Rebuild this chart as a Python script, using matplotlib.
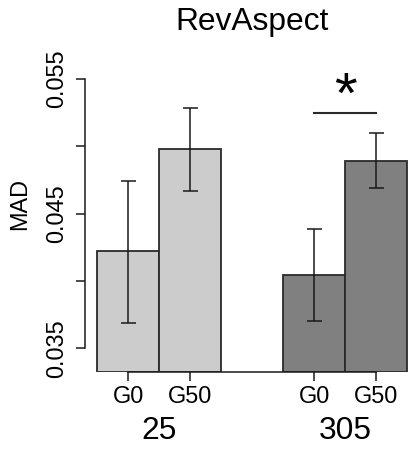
import matplotlib
matplotlib.use("Agg")
import matplotlib.pyplot as plt
from matplotlib.transforms import blended_transform_factory

plt.rcParams['font.family'] = ['Liberation Sans', 'DejaVu Sans']

# MAD per condition: group (25 / 305) x gain (G0 / G50)
groups = ["25", "305"]
conditions = ["G0", "G50"]
means = [0.0422, 0.0498, 0.04045, 0.0489]
err_low = [0.0369, 0.04668, 0.03705, 0.0469]
err_high = [0.04745, 0.0528, 0.04384, 0.05098]
colors = ["#cccccc", "#cccccc", "#808080", "#808080"]
yticks = [0.035, 0.040, 0.045, 0.050, 0.055]
ytick_labels = ["0.035", "", "0.045", "", "0.055"]
sig_y = 0.05246

W, H = 408, 449
fig = plt.figure(figsize=(W / 100, H / 100), dpi=100)
ax = fig.add_axes([84.6 / W, (H - 371.7) / H, 335.1 / W, 334.7 / H])

# bar layout: space 1 before each group, bars side by side within group
lefts = [1, 2, 4, 5]
centers = [l + 0.5 for l in lefts]
ylo = 0.03326
ax.bar(lefts, [m - ylo for m in means], bottom=ylo, width=1.0, align='edge',
       color=colors, edgecolor="#2a2a2a", linewidth=1.3, zorder=2)

yerr = [[m - lo for m, lo in zip(means, err_low)],
        [hi - m for m, hi in zip(means, err_high)]]
ax.errorbar(centers, means, yerr=yerr, fmt='none', ecolor="#1a1a1a",
            elinewidth=1.1, capsize=5.4, capthick=1.1, zorder=3)

ax.set_xlim(0.8, 6.2)
ax.set_ylim(ylo, 0.0581)

for s in ['top', 'right']:
    ax.spines[s].set_visible(False)
ax.spines['left'].set_bounds(yticks[0], yticks[-1])
ax.spines['bottom'].set_bounds(centers[0], centers[-1])
for s in ['left', 'bottom']:
    ax.spines[s].set_linewidth(1.1)
    ax.spines[s].set_color("#1a1a1a")

ax.set_yticks(yticks)
ax.set_yticklabels(ytick_labels, rotation=90, va='center', fontsize=16.9)
ax.set_xticks(centers)
ax.set_xticklabels(conditions * 2, fontsize=16.9)
ax.tick_params(axis='both', length=6.5, width=1.1, color="#1a1a1a")
ax.tick_params(axis='y', pad=5.5)
ax.tick_params(axis='x', pad=3)

# group labels under each pair of bars
tr = blended_transform_factory(ax.transData, fig.transFigure)
for gx, g in zip([2.0, 5.0], groups):
    ax.text(gx, (H - 439.3) / H, g, transform=tr, ha='center', va='baseline',
            fontsize=22.9, clip_on=False)

fig.text(20 / W, (H - 204) / H, "MAD", rotation=90, ha='center', va='center',
         fontsize=16.9)
fig.text(252 / W, (H - 30) / H, "RevAspect", ha='center', va='baseline',
         fontsize=22.9)

# significance marker between the two 305 bars
ax.plot([centers[2], centers[3]], [sig_y, sig_y], color="#2a2a2a", lw=1.5,
        clip_on=False)
ax.text((centers[2] + centers[3]) / 2, 0.05246, "*", ha='center',
        va='baseline', fontsize=42, clip_on=False)

fig.savefig("out.png", dpi=100)
